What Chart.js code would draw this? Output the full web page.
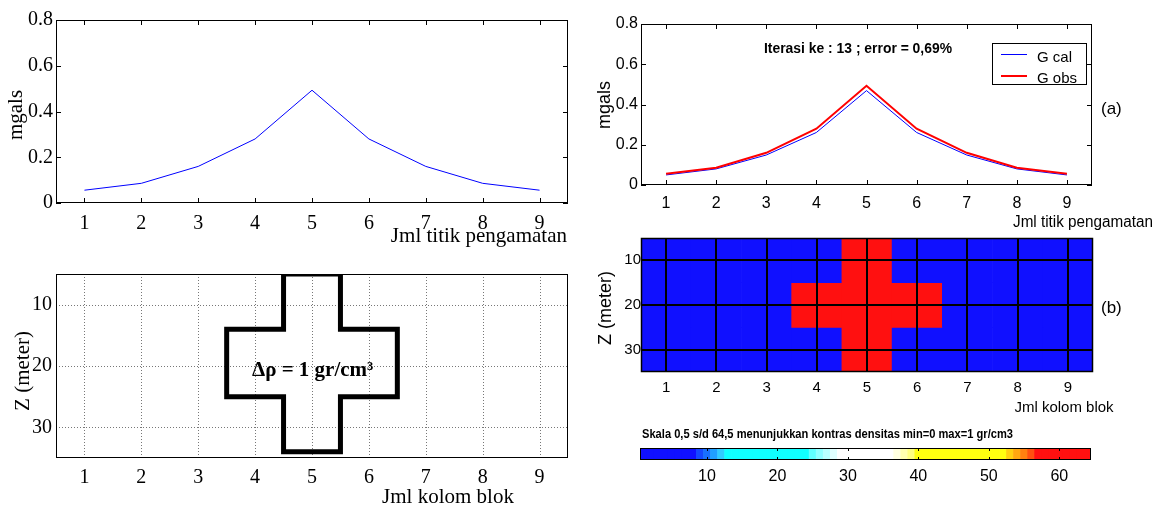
<!DOCTYPE html>
<html>
<head>
<meta charset="utf-8">
<script src="https://cdn.jsdelivr.net/npm/chart.js@4.4.0/dist/chart.umd.min.js"></script>
<style>
  html, body { margin: 0; padding: 0; background: #fff; }
  #page { position: relative; width: 1163px; height: 508px; overflow: hidden; background: #fff; }
  #page canvas { position: absolute; left: 0; top: 0; }
</style>
</head>
<body>
<div id="page">
  <canvas id="profile" width="1163" height="508"></canvas>
  <canvas id="fit" width="1163" height="508"></canvas>
  <canvas id="model" width="1163" height="508"></canvas>
  <canvas id="blocks" width="1163" height="508"></canvas>
  <canvas id="scale" width="1163" height="508"></canvas>
</div>
<script>
// observation points and gravity response (mgal)
const stations = [1, 2, 3, 4, 5, 6, 7, 8, 9];
const gObs = [0.056, 0.086, 0.160, 0.280, 0.493, 0.280, 0.160, 0.086, 0.056];
const gCal = [0.050, 0.080, 0.149, 0.261, 0.469, 0.261, 0.149, 0.080, 0.050];
const gravityTicks = [0, 0.2, 0.4, 0.6, 0.8];

// block model
const blockCols = [1, 2, 3, 4, 5, 6, 7, 8, 9];
const depthTicks = [10, 20, 30];
const crossX = [4.5, 5.5, 5.5, 6.5, 6.5, 5.5, 5.5, 4.5, 4.5, 3.5, 3.5, 4.5, 4.5];
const crossZ = [5, 5, 14, 14, 25, 25, 34, 34, 25, 25, 14, 14, 5];
const layerTops = [5, 15, 25];
const layerBottoms = [15, 25, 35];
const contrast = [
  [0, 0, 0, 0, 1, 0, 0, 0, 0],
  [0, 0, 0, 1, 1, 1, 0, 0, 0],
  [0, 0, 0, 0, 1, 0, 0, 0, 0]
];

// colour scale, 64 levels as runs of [count, colour]
const scaleTicks = [10, 20, 30, 40, 50, 60];
const cmapRuns = [
  [8, '#1010ff'], [1, '#1448ff'], [1, '#1870ff'], [1, '#20a0ff'], [1, '#30ccff'],
  [12, '#10ffff'], [1, '#60ffff'], [1, '#90ffff'], [1, '#b8ffff'], [1, '#e0ffff'],
  [8, '#ffffff'], [1, '#ffffe0'], [1, '#ffffb0'], [1, '#ffff80'],
  [13, '#ffff10'], [1, '#ffd010'], [1, '#ffa810'], [1, '#ff8010'], [1, '#ff5010'],
  [8, '#ff1010']
];

const cmap = [];
cmapRuns.forEach(([n, c]) => { for (let i = 0; i < n; i++) cmap.push(c); });
const lowColor = cmap[0];
const highColor = cmap[cmap.length - 1];

const SERIF = '"Liberation Serif", "Times New Roman", serif';
const SANS = '"Liberation Sans", Arial, sans-serif';

Chart.defaults.color = '#000';

// extra drawing per canvas (matlab style box, inward ticks, notes)
const decor = {
  profile: {
    box: 1, tickLen: 5,
    notes: [
      { text: 'mgals', x: 16, y: 115, font: '21px ' + SERIF, rotate: true },
      { text: 'Jml titik pengamatan', x: 567, y: 242, font: '21px ' + SERIF, align: 'right', baseline: 'alphabetic' }
    ]
  },
  fit: {
    box: 1, tickLen: 5,
    legend: { box: [992, 43, 1087, 85], rows: [54.5, 76], lineX: [1001, 1027], textX: 1037, font: '15px ' + SANS },
    notes: [
      { text: 'mgals', x: 605, y: 105, font: '18px ' + SANS, rotate: true },
      { text: 'Jml titik pengamatan', x: 1153, y: 227, font: '16px ' + SANS, align: 'right', baseline: 'alphabetic', maxWidth: 140 },
      { text: 'Iterasi ke : 13 ; error = 0,69%', x: 858, y: 49, font: 'bold 14px ' + SANS, maxWidth: 188 },
      { text: '(a)', x: 1101, y: 109, font: '17px ' + SANS, align: 'left' }
    ]
  },
  model: {
    box: 1, dotGrid: { color: '#777', width: 1, dash: [1, 2] },
    notes: [
      { text: 'Z (meter)', x: 23, y: 371, font: '21px ' + SERIF, rotate: true },
      { text: 'Jml kolom blok', x: 448, y: 503, font: '21px ' + SERIF, baseline: 'alphabetic' },
      { text: 'Δρ = 1 gr/cm³', x: 252, y: 376, font: 'bold 21px ' + SERIF, align: 'left', baseline: 'alphabetic' }
    ]
  },
  blocks: {
    box: 1.5, overGrid: { color: '#000', width: 2 },
    notes: [
      { text: 'Z (meter)', x: 606, y: 308, font: '18px ' + SANS, rotate: true },
      { text: 'Jml kolom blok', x: 1064, y: 412, font: '15px ' + SANS, baseline: 'alphabetic', maxWidth: 102 },
      { text: '(b)', x: 1101, y: 308.5, font: '17px ' + SANS, align: 'left' }
    ]
  },
  scale: {
    box: 1, tickLen: 3, xOnly: true,
    notes: [
      { text: 'Skala 0,5 s/d 64,5 menunjukkan kontras densitas min=0 max=1 gr/cm3', x: 642, y: 435, font: 'bold 12px ' + SANS, align: 'left', maxWidth: 371 }
    ]
  }
};

function strokeSegs(ctx, segs, color, width, dash) {
  ctx.save();
  ctx.strokeStyle = color;
  ctx.lineWidth = width;
  ctx.setLineDash(dash || []);
  ctx.beginPath();
  segs.forEach(([x1, y1, x2, y2]) => { ctx.moveTo(x1, y1); ctx.lineTo(x2, y2); });
  ctx.stroke();
  ctx.restore();
}

function gridSegs(chart, odd) {
  const a = chart.chartArea, segs = [];
  const off = odd ? 0.5 : 0;
  const xs = chart.scales.x, ys = chart.scales.y;
  xs.ticks.forEach(t => { const p = Math.round(xs.getPixelForValue(t.value)) + off; segs.push([p, a.top, p, a.bottom]); });
  ys.ticks.forEach(t => { const p = Math.round(ys.getPixelForValue(t.value)) + off; segs.push([a.left, p, a.right, p]); });
  return segs;
}

const matlabAxes = {
  id: 'matlabAxes',
  beforeDatasetsDraw(chart) {
    const d = decor[chart.canvas.id];
    if (d && d.dotGrid) strokeSegs(chart.ctx, gridSegs(chart, true), d.dotGrid.color, d.dotGrid.width, d.dotGrid.dash);
  },
  afterDatasetsDraw(chart) {
    const d = decor[chart.canvas.id];
    if (!d) return;
    const ctx = chart.ctx, a = chart.chartArea;
    if (d.overGrid) strokeSegs(ctx, gridSegs(chart, false), d.overGrid.color, d.overGrid.width);
    if (d.tickLen) {
      const segs = [], L = d.tickLen;
      const xs = chart.scales.x, ys = chart.scales.y;
      xs.ticks.forEach(t => {
        const p = Math.round(xs.getPixelForValue(t.value)) + 0.5;
        segs.push([p, a.bottom, p, a.bottom - L], [p, a.top, p, a.top + L]);
      });
      if (!d.xOnly) ys.ticks.forEach(t => {
        const p = Math.round(ys.getPixelForValue(t.value)) + 0.5;
        segs.push([a.left, p, a.left + L, p], [a.right, p, a.right - L, p]);
      });
      strokeSegs(ctx, segs, '#000', 1);
    }
    if (d.box) {
      ctx.save();
      ctx.strokeStyle = '#000';
      ctx.lineWidth = d.box;
      ctx.strokeRect(a.left + 0.5, a.top + 0.5, a.right - a.left - 1, a.bottom - a.top - 1);
      ctx.restore();
    }
    if (d.legend) {
      const lg = d.legend, [x1, y1, x2, y2] = lg.box;
      ctx.save();
      ctx.fillStyle = '#fff';
      ctx.fillRect(x1, y1, x2 - x1, y2 - y1);
      ctx.strokeStyle = '#000';
      ctx.lineWidth = 1;
      ctx.strokeRect(x1 + 0.5, y1 + 0.5, x2 - x1 - 1, y2 - y1 - 1);
      chart.data.datasets.forEach((ds, i) => {
        const y = lg.rows[i];
        strokeSegs(ctx, [[lg.lineX[0], y, lg.lineX[1], y]], ds.borderColor, ds.borderWidth);
        ctx.fillStyle = '#000';
        ctx.font = lg.font;
        ctx.textAlign = 'left';
        ctx.textBaseline = 'middle';
        ctx.fillText(ds.label, lg.textX, y + 3);
      });
      ctx.restore();
    }
  },
  afterDraw(chart) {
    const d = decor[chart.canvas.id];
    if (!d || !d.notes) return;
    const ctx = chart.ctx;
    d.notes.forEach(n => {
      ctx.save();
      ctx.fillStyle = '#000';
      ctx.font = n.font;
      ctx.textAlign = n.align || 'center';
      ctx.textBaseline = n.baseline || 'middle';
      ctx.translate(n.x, n.y);
      if (n.rotate) ctx.rotate(-Math.PI / 2);
      if (n.maxWidth) ctx.fillText(n.text, 0, 0, n.maxWidth);
      else ctx.fillText(n.text, 0, 0);
      ctx.restore();
    });
  }
};
Chart.register(matlabAxes);

function axis(kind, min, max, ticks, font, pad, size, extra) {
  return Object.assign({
    type: 'linear',
    min: min,
    max: max,
    offset: false,
    grid: { display: false, drawTicks: false, offset: false },
    border: { display: false },
    ticks: { font: font, padding: pad, color: '#000', autoSkip: false, maxRotation: 0, callback: v => String(v) },
    afterBuildTicks: s => { s.ticks = ticks.map(v => ({ value: v })); },
    afterFit: s => { if (kind === 'x') s.height = size; else s.width = size; }
  }, extra || {});
}

function baseOptions(padding, scales) {
  return {
    responsive: false,
    animation: false,
    events: [],
    layout: { padding: padding },
    plugins: { legend: { display: false }, tooltip: { enabled: false } },
    scales: scales
  };
}

const serif20 = { family: SERIF, size: 20 };
const sans16 = { family: SANS, size: 16 };
const sans15 = { family: SANS, size: 15 };

// top left: observed anomaly
new Chart(document.getElementById('profile'), {
  type: 'line',
  data: {
    datasets: [{
      label: 'Gobs',
      data: stations.map((s, i) => ({ x: s, y: gObs[i] })),
      borderColor: '#0000ff', borderWidth: 1, pointRadius: 0, tension: 0
    }]
  },
  options: baseOptions({ left: 6, top: 20, right: 595, bottom: 265 }, {
    x: axis('x', 0.5, 9.5, stations, serif20, 9, 40),
    y: axis('y', 0, 0.8, gravityTicks, serif20, 3, 50)
  })
});

// top right: calculated vs observed
new Chart(document.getElementById('fit'), {
  type: 'line',
  data: {
    datasets: [
      { label: 'G cal', data: stations.map((s, i) => ({ x: s, y: gCal[i] })), borderColor: '#0000ff', borderWidth: 1, pointRadius: 0, tension: 0, order: 1 },
      { label: 'G obs', data: stations.map((s, i) => ({ x: s, y: gObs[i] })), borderColor: '#ff0000', borderWidth: 2, pointRadius: 0, tension: 0, order: 0 }
    ]
  },
  options: baseOptions({ left: 601, top: 24, right: 71, bottom: 283 }, {
    x: axis('x', 0.5, 9.5, stations, sans16, 9, 40),
    y: axis('y', 0, 0.8, gravityTicks, sans16, 3, 40)
  })
});

// bottom left: synthetic model outline
new Chart(document.getElementById('model'), {
  type: 'line',
  data: {
    datasets: [{
      label: 'model',
      data: crossX.map((x, i) => ({ x: x, y: crossZ[i] })),
      borderColor: '#000', borderWidth: 5, pointRadius: 0, tension: 0,
      borderJoinStyle: 'miter', borderCapStyle: 'square', fill: false
    }]
  },
  options: baseOptions({ left: 6, top: 274, right: 595, bottom: 10 }, {
    x: axis('x', 0.5, 9.5, blockCols, serif20, 8, 40),
    y: axis('y', 5, 35, depthTicks, serif20, 4, 50, { reverse: true })
  })
});

// bottom right: inverted blocks
new Chart(document.getElementById('blocks'), {
  type: 'bar',
  data: {
    datasets: layerTops.map((top, r) => ({
      label: 'layer ' + (r + 1),
      data: blockCols.map(c => ({ x: c, y: [top, layerBottoms[r]] })),
      backgroundColor: contrast[r].map(v => (v ? highColor : lowColor)),
      borderWidth: 0, barPercentage: 1, categoryPercentage: 1, grouped: false
    }))
  },
  options: baseOptions({ left: 601, top: 238, right: 70, bottom: 96 }, {
    x: axis('x', 0.5, 9.5, blockCols, sans15, 7, 40),
    y: axis('y', 5, 35, depthTicks, sans15, 0, 40, { reverse: true })
  })
});

// colour bar
new Chart(document.getElementById('scale'), {
  type: 'bar',
  data: {
    datasets: [{
      label: 'skala',
      data: cmap.map((c, i) => ({ x: i + 1, y: 1 })),
      backgroundColor: cmap,
      borderWidth: 0, barPercentage: 1, categoryPercentage: 1
    }]
  },
  options: baseOptions({ left: 640, top: 448, right: 72, bottom: 8 }, {
    x: axis('x', 0.5, 64.5, scaleTicks, sans16, 7, 40),
    y: { type: 'linear', min: 0, max: 1, display: false }
  })
});
</script>
</body>
</html>
